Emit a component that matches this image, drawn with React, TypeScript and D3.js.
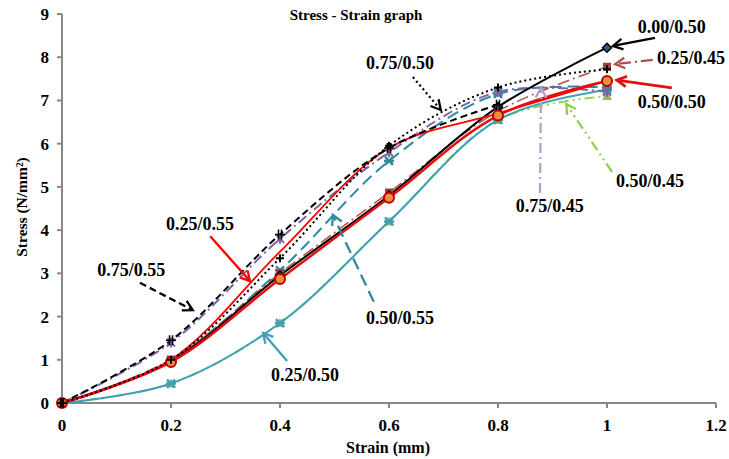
import React from "react";
import * as d3 from "d3";

const strain = [0, 0.2, 0.4, 0.6, 0.8, 1.0];
const xTicks = [0, 0.2, 0.4, 0.6, 0.8, 1, 1.2];
const yTicks = [0, 1, 2, 3, 4, 5, 6, 7, 8, 9];

// series values (stress, N/mm²)
const s000_050 = [0, 0.97, 2.95, 4.8, 6.85, 8.22];
const s025_045 = [0, 1.0, 3.0, 4.87, 6.75, 7.78];
const s050_050 = [0, 0.95, 2.87, 4.75, 6.65, 7.45];
const s025_055 = [0, 1.0, 3.5, 5.9, 6.7, 7.45];
const s075_050 = [0, 1.0, 3.35, 5.95, 7.3, 7.72];
const s075_055 = [0, 1.45, 3.9, 5.9, 6.9];
const s075_045 = [0, 1.4, 3.8, 5.8, 7.2, 7.2];
const s050_055 = [0, 1.0, 3.07, 5.6, 7.15, 7.3];
const s050_045 = [0, 0.45, 1.85, 4.2, 6.55, 7.1];
const s025_050 = [0, 0.45, 1.85, 4.2, 6.55, 7.25];

type Style = { name: string; vals: number[]; color: string; width: number; dash?: string; marker: string; mfill?: string };

const series: Style[] = [
  { name: "0.50/0.45", vals: s050_045, color: "#92d050", width: 2, dash: "10 4 2 4 2 4", marker: "triangle", mfill: "#9bbb59" },
  { name: "0.25/0.50", vals: s025_050, color: "#3fa0b8", width: 2, marker: "x" },
  { name: "0.50/0.55", vals: s050_055, color: "#31899f", width: 2, dash: "12 6", marker: "x" },
  { name: "0.75/0.45", vals: s075_045, color: "#8064a2", width: 2, dash: "10 4 2 4", marker: "star" },
  { name: "0.25/0.45", vals: s025_045, color: "#b0504a", width: 1.5, dash: "12 4 2 4", marker: "square", mfill: "#a0413d" },
  { name: "0.00/0.50", vals: s000_050, color: "#000000", width: 2, marker: "diamond", mfill: "#2a5aa0" },
  { name: "0.50/0.50", vals: s050_050, color: "#e31010", width: 2.5, marker: "circle", mfill: "#e8913a" },
  { name: "0.25/0.55", vals: s025_055, color: "#ff0000", width: 1.8, marker: "none" },
  { name: "0.75/0.50", vals: s075_050, color: "#000000", width: 2, dash: "2 3", marker: "plus" },
  { name: "0.75/0.55", vals: s075_055, color: "#000000", width: 2, dash: "7 4", marker: "plus2" },
];

// annotations in data units: label centre, arrow tail, arrow tip
const annNames = ["0.00/0.50", "0.25/0.45", "0.50/0.50", "0.75/0.50", "0.50/0.45", "0.75/0.45", "0.50/0.55", "0.25/0.50", "0.25/0.55", "0.75/0.55"];
const annLabel = [[1.119, 8.7], [1.154, 7.98], [1.119, 6.96], [0.62, 7.87], [1.079, 5.14], [0.895, 4.56], [0.62, 1.97], [0.446, 0.65], [0.253, 4.14], [0.127, 3.08]];
const annTail = [[1.088, 8.45], [1.084, 7.94], [1.119, 7.29], [0.644, 7.54], [1.009, 5.35], [0.877, 4.86], [0.572, 2.34], [0.413, 0.97], [0.272, 3.86], [0.143, 2.78]];
const annTip = [[1.011, 8.26], [1.015, 7.84], [1.018, 7.47], [0.695, 6.78], [0.925, 6.92], [0.879, 7.29], [0.497, 4.35], [0.369, 1.62], [0.345, 2.82], [0.24, 2.15]];

const W = 729, H = 459;
const x = d3.scaleLinear().domain([0, 1.2]).range([62, 716]);
const y = d3.scaleLinear().domain([0, 9]).range([403, 14]);
const FONT = "'Liberation Serif', 'Times New Roman', serif";

function Marker({ m, cx, cy, color, fill }: { m: string; cx: number; cy: number; color: string; fill?: string }) {
  const s = 4;
  if (m === "circle") return <circle cx={cx} cy={cy} r={5} fill={fill} stroke="#c00000" strokeWidth={2} />;
  if (m === "square") return <rect x={cx - s} y={cy - s} width={2 * s} height={2 * s} fill={fill} />;
  if (m === "diamond") return <path d={`M${cx},${cy - 4.5}L${cx + 4.5},${cy}L${cx},${cy + 4.5}L${cx - 4.5},${cy}Z`} fill={fill} stroke="#000" strokeWidth={1.5} />;
  if (m === "triangle") return <path d={`M${cx},${cy - 5}L${cx + 5},${cy + 4}L${cx - 5},${cy + 4}Z`} fill={fill} />;
  if (m === "x") return <path d={`M${cx - 4},${cy - 4}L${cx + 4},${cy + 4}M${cx - 4},${cy + 4}L${cx + 4},${cy - 4}M${cx - 5},${cy}L${cx + 5},${cy}`} stroke={color} strokeWidth={2.5} />;
  if (m === "star") return <path d={`M${cx - 4},${cy - 4}L${cx + 4},${cy + 4}M${cx - 4},${cy + 4}L${cx + 4},${cy - 4}M${cx},${cy - 5}L${cx},${cy + 5}`} stroke={color} strokeWidth={2} />;
  if (m === "plus") return <path d={`M${cx - 4},${cy}L${cx + 4},${cy}M${cx},${cy - 4}L${cx},${cy + 4}`} stroke={color} strokeWidth={2} />;
  if (m === "plus2") return <path d={`M${cx - 5},${cy}L${cx + 5},${cy}M${cx - 1.5},${cy - 5}L${cx - 1.5},${cy + 5}M${cx + 1.5},${cy - 5}L${cx + 1.5},${cy + 5}`} stroke={color} strokeWidth={1.5} />;
  return null;
}

export default function App() {
  const line = d3.line<number>().x((_, i) => x(strain[i])).y((v) => y(v)).curve(d3.curveCatmullRom.alpha(0.5));
  const byName = (n: string) => series.find((s) => s.name === n)!;
  return (
    <div style={{ position: "absolute", left: 0, top: 0 }}>
      <svg width={W} height={H} style={{ display: "block", background: "#fff" }} fontFamily={FONT}>
        {/* axes */}
        <line x1={x(0)} x2={x(0)} y1={y(9)} y2={y(0)} stroke="#888" strokeWidth={2} />
        <line x1={x(0)} x2={x(1.2)} y1={y(0)} y2={y(0)} stroke="#888" strokeWidth={2} />
        {yTicks.map((t) => (
          <g key={"y" + t}>
            <line x1={x(0) - 5} x2={x(0)} y1={y(t)} y2={y(t)} stroke="#888" strokeWidth={2} />
            <text x={x(0) - 13} y={y(t)} dy="0.35em" textAnchor="end" fontSize={17} fontWeight="bold">{t}</text>
          </g>
        ))}
        {xTicks.map((t) => (
          <g key={"x" + t}>
            <line x1={x(t)} x2={x(t)} y1={y(0)} y2={y(0) + 5} stroke="#888" strokeWidth={2} />
            <text x={x(t)} y={y(0) + 28} textAnchor="middle" fontSize={17} fontWeight="bold">{String(t)}</text>
          </g>
        ))}
        <text x={388} y={453} textAnchor="middle" fontSize={16} fontWeight="bold">Strain (mm)</text>
        <text transform={`translate(27,${207}) rotate(-90)`} textAnchor="middle" fontSize={15.5} fontWeight="bold">Stress (N/mm²)</text>
        <text x={356} y={20} textAnchor="middle" fontSize={15} fontWeight="bold">Stress - Strain graph</text>

        {/* series lines */}
        {series.map((s) => (
          <path key={s.name} d={line(s.vals) || ""} fill="none" stroke={s.color} strokeWidth={s.width} strokeDasharray={s.dash} />
        ))}
        {/* markers */}
        {series.map((s) => (
          <g key={"m" + s.name}>
            {s.vals.map((v, i) => (
              <Marker key={i} m={s.marker} cx={x(strain[i])} cy={y(v)} color={s.color} fill={s.mfill} />
            ))}
          </g>
        ))}

        {/* annotations */}
        {annNames.map((n, i) => {
          const st = byName(n);
          const x1 = x(annTail[i][0]), y1 = y(annTail[i][1]);
          const x2 = x(annTip[i][0]), y2 = y(annTip[i][1]);
          const ang = Math.atan2(y2 - y1, x2 - x1);
          const L = 11, a = 0.5;
          const h1 = [x2 - L * Math.cos(ang - a), y2 - L * Math.sin(ang - a)];
          const h2 = [x2 - L * Math.cos(ang + a), y2 - L * Math.sin(ang + a)];
          const w = Math.max(2, st.width);
          const col = st.name === "0.75/0.45" ? "#b3a2c7" : st.color;
          return (
            <g key={"a" + n}>
              <line x1={x1} y1={y1} x2={x2} y2={y2} stroke={col} strokeWidth={w + 0.3} strokeDasharray={st.dash} />
              <path d={`M${h1[0]},${h1[1]}L${x2},${y2}L${h2[0]},${h2[1]}`} fill="none" stroke={col} strokeWidth={w + 0.3} />
              <text x={x(annLabel[i][0])} y={y(annLabel[i][1])} dy="0.35em" textAnchor="middle" fontSize={18} fontWeight="bold">{n}</text>
            </g>
          );
        })}
      </svg>
    </div>
  );
}
